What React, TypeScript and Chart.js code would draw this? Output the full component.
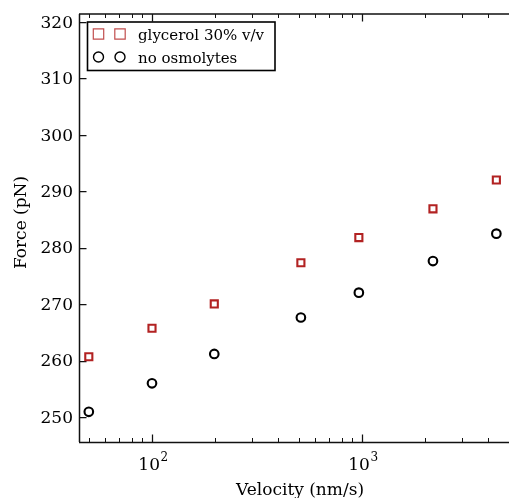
import React, { useEffect, useRef } from "react";
import { Chart, registerables } from "chart.js";

Chart.register(...registerables);

// ---- data ----
const velocities = [50, 100, 198, 512, 967, 2180, 4370];
const glycerolForce = [260.7, 265.75, 270.05, 277.35, 281.8, 286.9, 292.0];
const noOsmolyteForce = [250.95, 256.0, 261.2, 267.65, 272.05, 277.65, 282.5];
const seriesLabels = ["glycerol 30% v/v", "no osmolytes"];
const yTickValues = [250, 260, 270, 280, 290, 300, 310, 320];
const xMajorTicks = [100, 1000];
const xMajorBase = ["10", "10"];
const xMajorExp = ["2", "3"];
const xMinorTicks = [50, 60, 70, 80, 90, 200, 300, 400, 500, 600, 700, 800, 900, 2000, 3000, 4000, 5000];
const xTitle = "Velocity (nm/s)";
const yTitle = "Force (pN)";

const SERIF = '"DejaVu Serif", serif';
const RED = "#b22222";

const decorPlugin = {
  id: "decor",
  beforeDatasetsDraw(chart: any) {
    const ctx = chart.ctx as CanvasRenderingContext2D;
    const { left, right, top, bottom } = chart.chartArea;
    const xs = chart.scales.x;
    const ys = chart.scales.y;
    ctx.save();
    ctx.strokeStyle = "#111";
    // spines
    ctx.lineWidth = 1.5;
    ctx.beginPath();
    ctx.moveTo(left + 0.5, top);
    ctx.lineTo(left + 0.5, bottom);
    ctx.moveTo(left, bottom + 0.5);
    ctx.lineTo(right, bottom + 0.5);
    ctx.moveTo(left, top);
    ctx.lineTo(right, top);
    ctx.stroke();
    // y major ticks
    ctx.lineWidth = 1.25;
    ctx.beginPath();
    yTickValues.forEach((v) => {
      const y = Math.round(ys.getPixelForValue(v)) + 0.5;
      ctx.moveTo(left, y);
      ctx.lineTo(left + 7.5, y);
    });
    ctx.stroke();
    // x major ticks
    ctx.beginPath();
    xMajorTicks.forEach((v) => {
      const x = Math.round(xs.getPixelForValue(v)) + 0.5;
      ctx.moveTo(x, bottom);
      ctx.lineTo(x, bottom - 7.5);
      ctx.moveTo(x, top);
      ctx.lineTo(x, top + 7.5);
    });
    ctx.stroke();
    // x minor ticks
    ctx.lineWidth = 1;
    ctx.beginPath();
    xMinorTicks.forEach((v) => {
      const x = Math.round(xs.getPixelForValue(v)) + 0.5;
      ctx.moveTo(x, bottom);
      ctx.lineTo(x, bottom - 4);
      ctx.moveTo(x, top);
      ctx.lineTo(x, top + 4);
    });
    ctx.stroke();

    // x tick labels with superscripts
    ctx.fillStyle = "#000";
    ctx.textBaseline = "alphabetic";
    ctx.textAlign = "left";
    xMajorTicks.forEach((v, i) => {
      const x = xs.getPixelForValue(v);
      ctx.font = `17px ${SERIF}`;
      const wb = ctx.measureText(xMajorBase[i]).width;
      ctx.font = `12px ${SERIF}`;
      const we = ctx.measureText(xMajorExp[i]).width;
      const start = x - (wb + we) / 2 + 1;
      ctx.font = `17px ${SERIF}`;
      ctx.fillText(xMajorBase[i], start, 469.5);
      ctx.font = `12px ${SERIF}`;
      ctx.fillText(xMajorExp[i], start + wb + 0.5, 460.5);
    });

    // axis titles
    ctx.font = `17px ${SERIF}`;
    ctx.textAlign = "center";
    ctx.fillText(xTitle, 300, 495);
    ctx.save();
    ctx.translate(25.5, 222.5);
    ctx.rotate(-Math.PI / 2);
    ctx.fillText(yTitle, 0, 0);
    ctx.restore();
    ctx.restore();
  },
  afterDraw(chart: any) {
    const ctx = chart.ctx as CanvasRenderingContext2D;
    ctx.save();
    // legend box
    ctx.fillStyle = "#fff";
    ctx.fillRect(87.5, 22, 187.5, 48.5);
    ctx.strokeStyle = "#000";
    ctx.lineWidth = 1.6;
    ctx.strokeRect(87.5, 22, 187.5, 48.5);
    const rows = [34, 57];
    const markerX = [98.5, 120];
    chart.data.datasets.forEach((ds: any, i: number) => {
      const cy = rows[i];
      markerX.forEach((mx) => {
        ctx.beginPath();
        if (ds.pointStyle === "rect") {
          ctx.strokeStyle = "rgba(178,34,34,0.8)";
          ctx.lineWidth = 1.2;
          ctx.rect(mx - 5.2, cy - 5.2, 10.4, 10.4);
        } else {
          ctx.strokeStyle = "#000";
          ctx.lineWidth = 1.4;
          ctx.arc(mx, cy, 5, 0, Math.PI * 2);
        }
        ctx.stroke();
      });
      ctx.fillStyle = "#000";
      ctx.font = `15px ${SERIF}`;
      ctx.textAlign = "left";
      ctx.textBaseline = "alphabetic";
      ctx.fillText(ds.label, 138, cy + 5.5);
    });
    ctx.restore();
  },
};

export default function App() {
  const ref = useRef<HTMLCanvasElement | null>(null);
  useEffect(() => {
    if (!ref.current) return;
    const chart = new Chart(ref.current, {
      type: "scatter",
      data: {
        datasets: [
          {
            label: seriesLabels[0],
            data: velocities.map((v, i) => ({ x: v, y: glycerolForce[i] })),
            pointStyle: "rect",
            pointRadius: 5,
            pointHoverRadius: 5,
            borderWidth: 2.1,
            borderColor: RED,
            backgroundColor: "rgba(0,0,0,0)",
          },
          {
            label: seriesLabels[1],
            data: velocities.map((v, i) => ({ x: v, y: noOsmolyteForce[i] })),
            pointStyle: "circle",
            pointRadius: 4.3,
            pointHoverRadius: 4.3,
            borderWidth: 2.1,
            borderColor: "#000",
            backgroundColor: "rgba(0,0,0,0)",
          },
        ] as any,
      },
      options: {
        animation: false,
        responsive: false,
        events: [],
        layout: { autoPadding: false, padding: { top: 14, right: 0, left: 0, bottom: 0 } },
        plugins: { legend: { display: false }, tooltip: { enabled: false } },
        scales: {
          x: {
            type: "logarithmic",
            min: 44.9,
            max: 5020,
            grid: { display: false, drawTicks: false },
            border: { display: false },
            ticks: { display: false },
            afterFit: (s: any) => {
              s.height = 56;
              s.paddingLeft = 0;
              s.paddingRight = 0;
            },
          },
          y: {
            type: "linear",
            min: 245.6,
            max: 321.4,
            grid: { display: false, drawTicks: false },
            border: { display: false },
            afterBuildTicks: (s: any) => {
              s.ticks = yTickValues.map((v) => ({ value: v }));
            },
            ticks: {
              padding: 6,
              labelOffset: 1.3,
              color: "#000",
              font: { family: SERIF, size: 17 },
              callback: (v: any) => String(v),
            },
            afterFit: (s: any) => {
              s.width = 79;
              s.paddingTop = 0;
              s.paddingBottom = 0;
            },
          },
        },
      },
      plugins: [decorPlugin],
    });
    return () => chart.destroy();
  }, []);
  return (
    <div style={{ position: "fixed", left: 0, top: 0, width: 509, height: 498, overflow: "hidden", background: "#fff" }}>
      <canvas ref={ref} width={509} height={498} style={{ display: "block" }} />
    </div>
  );
}
